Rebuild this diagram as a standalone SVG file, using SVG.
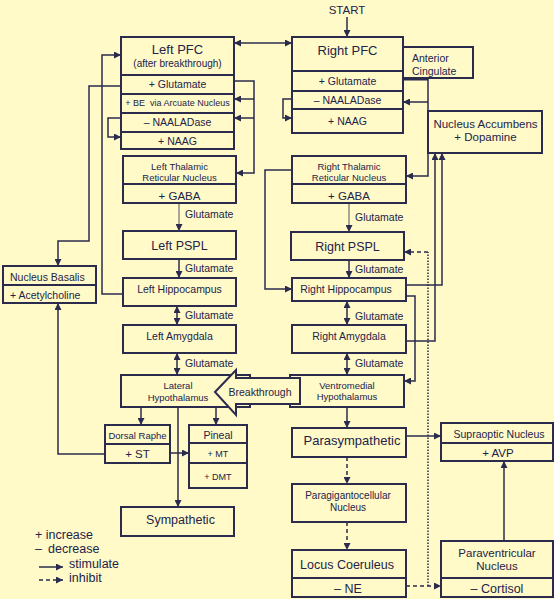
<svg xmlns="http://www.w3.org/2000/svg" width="554" height="599" viewBox="0 0 554 599">
<style>
.bx{fill:#FFFAC8;stroke:#2b2b4e;stroke-width:2}
.dv{stroke:#2b2b4e;stroke-width:2}
.t{font-family:"Liberation Sans",Arial,sans-serif;fill:#23234a;text-anchor:middle}
.s{text-anchor:start}
.c{fill:none;stroke:#2b2b4e;stroke-width:1.5}
.g{fill:none;stroke:#8a8a8a;stroke-width:1.5}
.d{stroke-dasharray:4,3}
.o{stroke-dasharray:1.5,1.5}
</style>
<defs>
<marker id="a" viewBox="0 0 10 10" refX="10" refY="5" markerWidth="7" markerHeight="7" orient="auto-start-reverse" markerUnits="userSpaceOnUse"><path d="M0,0 L10,5 L0,10 z" fill="#2b2b4e"/></marker>
</defs>
<rect width="554" height="599" fill="#FFFAC8"/>
<text class="t" x="347" y="14" font-size="11.5">START</text>

<g id="connectors">
<path class="c" d="M347,17 V37" marker-end="url(#a)"/>
<path class="c" d="M234,43 H292" marker-start="url(#a)" marker-end="url(#a)"/>
<path class="c" d="M234,81 H254 V173 H236" marker-end="url(#a)"/>
<path class="c" d="M254,99 H234" marker-end="url(#a)"/>
<path class="c" d="M254,118 H234" marker-end="url(#a)"/>
<path class="c" d="M121,118 H108 V137 H121" marker-end="url(#a)"/>
<path class="c" d="M123,294 H102 V55 H121" marker-end="url(#a)"/>
<path class="c" d="M121,86 H89 V241 H58 V266" marker-end="url(#a)"/>
<path class="g" d="M179,203 V231" marker-end="url(#a)"/>
<path class="c" d="M179,259 V278" marker-end="url(#a)"/>
<path class="c" d="M177,306 V325" marker-start="url(#a)" marker-end="url(#a)"/>
<path class="c" d="M177,353 V375" marker-start="url(#a)" marker-end="url(#a)"/>
<path class="c" d="M141,407 V425" marker-end="url(#a)"/>
<path class="c" d="M216,407 V425" marker-end="url(#a)"/>
<path class="c" d="M178,407 V507" marker-end="url(#a)"/>
<path class="c" d="M170,453 H189" marker-end="url(#a)"/>
<path class="c" d="M105,454 H58 V303" marker-end="url(#a)"/>
<path fill="none" stroke="#2b2b4e" stroke-width="3" d="M403,79 H428"/>
<path class="c" d="M428,79 V176 H406" marker-end="url(#a)"/>
<path class="c" d="M428,102 H403" marker-end="url(#a)"/>
<path class="c" d="M292,99 H283 V118 H292" marker-end="url(#a)"/>
<path class="c" d="M292,170 H265 V289 H292" marker-end="url(#a)"/>
<path class="g" d="M349,203 V232" marker-end="url(#a)"/>
<path class="c" d="M349,260 V278" marker-end="url(#a)"/>
<path class="c" d="M406,285 H442 V153" marker-end="url(#a)"/>
<path class="c" d="M406,296 H415 V381 H404" marker-end="url(#a)"/>
<path class="c" d="M406,341 H435 V153" marker-end="url(#a)"/>
<path class="c" d="M347,301 V325" marker-start="url(#a)" marker-end="url(#a)"/>
<path class="c" d="M347,353 V375" marker-start="url(#a)" marker-end="url(#a)"/>
<path class="c" d="M347,407 V428" marker-end="url(#a)"/>
<path class="c" d="M406,436 H441" marker-end="url(#a)"/>
<path class="c d" d="M347,457 V484" marker-end="url(#a)"/>
<path class="c d" d="M347,522 V550" marker-end="url(#a)"/>
<path class="c d" d="M406,586 H441" marker-end="url(#a)"/>
<path class="c o" d="M428,586 V252"/>
<path class="c d" d="M428,252 H404" marker-end="url(#a)"/>
<path class="c" d="M504,541 V461" marker-end="url(#a)"/>
<text class="t s" x="185" y="217.5" font-size="10.5">Glutamate</text>
<text class="t s" x="185" y="271.5" font-size="10.5">Glutamate</text>
<text class="t s" x="185" y="318.5" font-size="10.5">Glutamate</text>
<text class="t s" x="185" y="366.5" font-size="10.5">Glutamate</text>
<text class="t s" x="355" y="220.5" font-size="10.5">Glutamate</text>
<text class="t s" x="355" y="272.5" font-size="10.5">Glutamate</text>
<text class="t s" x="355" y="319.5" font-size="10.5">Glutamate</text>
<text class="t s" x="355" y="366.5" font-size="10.5">Glutamate</text>
</g>

<g id="left-pfc">
<rect class="bx" x="121" y="37" width="113" height="112"/>
<path class="dv" d="M121,75 H234 M121,94 H234 M121,113 H234 M121,132 H234"/>
<text class="t" x="177.5" y="54" font-size="13">Left PFC</text>
<text class="t" x="177.5" y="66.5" font-size="10">(after breakthrough)</text>
<text class="t" x="177.5" y="88" font-size="10.5">+ Glutamate</text>
<text class="t" x="177.5" y="106" font-size="9" style="white-space:pre">+ BE  via Arcuate Nucleus</text>
<text class="t" x="177.5" y="126" font-size="10.5">– NAALADase</text>
<text class="t" x="177.5" y="144.5" font-size="10.5">+ NAAG</text>
</g>

<g id="right-pfc">
<rect class="bx" x="292" y="37" width="111" height="96"/>
<path class="dv" d="M292,71 H403 M292,91 H403 M292,109 H403"/>
<text class="t" x="347.5" y="54.5" font-size="13">Right PFC</text>
<text class="t" x="347.5" y="84.5" font-size="10.5">+ Glutamate</text>
<text class="t" x="347.5" y="103.5" font-size="10.5">– NAALADase</text>
<text class="t" x="347.5" y="124.5" font-size="10.5">+ NAAG</text>
</g>

<g id="anterior-cingulate">
<rect class="bx" x="403" y="47" width="70" height="31"/>
<text class="t s" x="412" y="61.5" font-size="10.5">Anterior</text>
<text class="t s" x="412" y="74.5" font-size="10.5">Cingulate</text>
</g>

<g id="nucleus-accumbens">
<rect class="bx" x="428" y="111" width="114" height="42"/>
<text class="t" x="485.5" y="127.5" font-size="11.5">Nucleus Accumbens</text>
<text class="t" x="485.5" y="140.5" font-size="11.5">+ Dopamine</text>
</g>

<g id="left-thalamic">
<rect class="bx" x="123" y="156" width="113" height="47"/>
<path class="dv" d="M123,184 H236"/>
<text class="t" x="179.5" y="169.5" font-size="9.5">Left Thalamic</text>
<text class="t" x="179.5" y="180.5" font-size="9.5">Reticular Nucleus</text>
<text class="t" x="179.5" y="199.5" font-size="11.5">+ GABA</text>
</g>

<g id="right-thalamic">
<rect class="bx" x="292" y="156" width="114" height="47"/>
<path class="dv" d="M292,184 H406"/>
<text class="t" x="349" y="169.5" font-size="9.5">Right Thalamic</text>
<text class="t" x="349" y="180.5" font-size="9.5">Reticular Nucleus</text>
<text class="t" x="349" y="199.5" font-size="11.5">+ GABA</text>
</g>

<g id="left-pspl">
<rect class="bx" x="123" y="231" width="113" height="28"/>
<text class="t" x="179.5" y="249.5" font-size="12.5">Left PSPL</text>
</g>

<g id="right-pspl">
<rect class="bx" x="291" y="232" width="113" height="28"/>
<text class="t" x="347.5" y="250.5" font-size="12.5">Right PSPL</text>
</g>

<g id="nucleus-basalis">
<rect class="bx" x="3" y="266" width="93" height="37"/>
<path class="dv" d="M3,285 H96"/>
<text class="t s" x="10" y="280.5" font-size="10.5">Nucleus Basalis</text>
<text class="t s" x="10" y="298.5" font-size="10.5">+ Acetylcholine</text>
</g>

<g id="left-hippocampus">
<rect class="bx" x="123" y="278" width="113" height="28"/>
<text class="t" x="179.5" y="292.5" font-size="10.5">Left Hippocampus</text>
</g>

<g id="right-hippocampus">
<rect class="bx" x="292" y="278" width="114" height="23"/>
<text class="t" x="346" y="292.5" font-size="10.5">Right Hippocampus</text>
</g>

<g id="left-amygdala">
<rect class="bx" x="123" y="325" width="113" height="28"/>
<text class="t" x="179.5" y="340" font-size="10.5">Left Amygdala</text>
</g>

<g id="right-amygdala">
<rect class="bx" x="292" y="325" width="114" height="28"/>
<text class="t" x="349" y="340" font-size="10.5">Right Amygdala</text>
</g>

<g id="lateral-hypothalamus">
<rect class="bx" x="121" y="375" width="129" height="32"/>
<text class="t" x="178" y="388.5" font-size="9.5">Lateral</text>
<text class="t" x="178" y="400.5" font-size="9.5">Hypothalamus</text>
</g>

<g id="ventromedial-hypothalamus">
<rect class="bx" x="290" y="375" width="114" height="32"/>
<text class="t" x="347" y="388.5" font-size="9.5">Ventromedial</text>
<text class="t" x="347" y="400" font-size="9.5">Hypothalamus</text>
</g>

<g id="breakthrough">
<polygon class="bx" points="215,392 236,370 236,378 300,378 300,404 236,404 236,415"/>
<text class="t" x="260" y="396" font-size="10.5">Breakthrough</text>
</g>

<g id="dorsal-raphe">
<rect class="bx" x="105" y="425" width="65" height="38"/>
<path class="dv" d="M105,444 H170"/>
<text class="t" x="137.5" y="438.5" font-size="9.5">Dorsal Raphe</text>
<text class="t" x="137.5" y="458" font-size="11.5">+ ST</text>
</g>

<g id="pineal">
<rect class="bx" x="189" y="425" width="58" height="63"/>
<path class="dv" d="M189,443 H247 M189,463 H247"/>
<text class="t" x="218" y="439" font-size="10.5">Pineal</text>
<text class="t" x="218" y="457" font-size="9">+ MT</text>
<text class="t" x="218" y="480" font-size="9">+ DMT</text>
</g>

<g id="sympathetic">
<rect class="bx" x="121" y="507" width="113" height="29"/>
<text class="t" x="180.5" y="523.5" font-size="12.5">Sympathetic</text>
</g>

<g id="parasympathetic">
<rect class="bx" x="292" y="428" width="114" height="29"/>
<text class="t" x="352" y="444.5" font-size="13">Parasympathetic</text>
</g>

<g id="supraoptic">
<rect class="bx" x="441" y="423" width="112" height="38"/>
<path class="dv" d="M441,443 H553"/>
<text class="t" x="499" y="437.5" font-size="10.5">Supraoptic Nucleus</text>
<text class="t" x="498" y="457" font-size="11.5">+ AVP</text>
</g>

<g id="paragigantocellular">
<rect class="bx" x="292" y="484" width="114" height="38"/>
<text class="t" x="348" y="499" font-size="10">Paragigantocellular</text>
<text class="t" x="348" y="510.5" font-size="10">Nucleus</text>
</g>

<g id="locus-coeruleus">
<rect class="bx" x="292" y="550" width="114" height="47"/>
<path class="dv" d="M292,578 H406"/>
<text class="t" x="347" y="568.5" font-size="12.5">Locus Coeruleus</text>
<text class="t" x="348" y="592.5" font-size="12.5">– NE</text>
</g>

<g id="paraventricular">
<rect class="bx" x="441" y="541" width="112" height="56"/>
<path class="dv" d="M441,578 H553"/>
<text class="t" x="497" y="557" font-size="11.5">Paraventricular</text>
<text class="t" x="497" y="570" font-size="11.5">Nucleus</text>
<text class="t" x="497" y="592.5" font-size="12.5">– Cortisol</text>
</g>

<g id="legend">
<text class="t s" x="35" y="539" font-size="12.5">+ increase</text>
<text class="t s" x="35" y="553" font-size="12.5">–</text>
<text class="t s" x="48" y="553" font-size="12.5">decrease</text>
<path class="c" d="M39,567 H63" marker-end="url(#a)"/>
<text class="t s" x="69" y="568" font-size="12.5">stimulate</text>
<path class="c d" d="M39,580 H63" marker-end="url(#a)"/>
<text class="t s" x="69" y="582" font-size="12.5">inhibit</text>
</g>
</svg>
